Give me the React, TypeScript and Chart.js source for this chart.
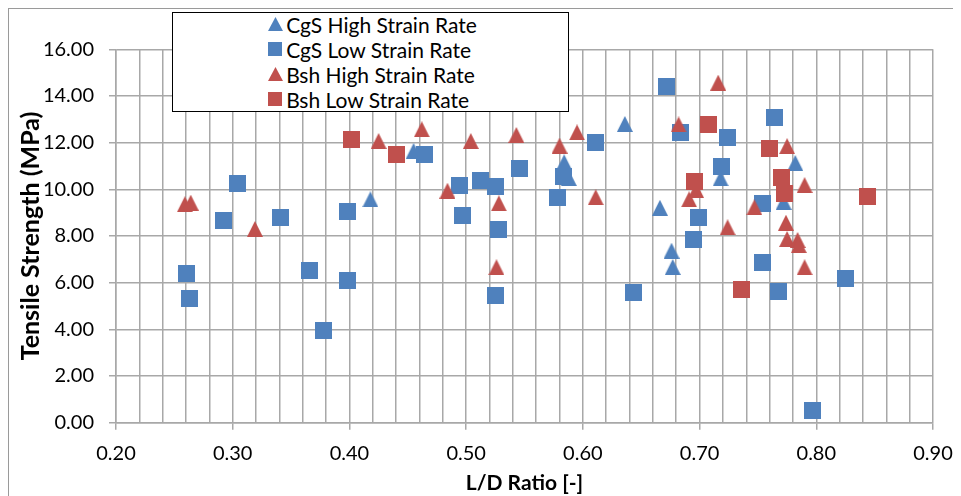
import React, { useEffect, useRef } from "react";
import { Chart, registerables } from "chart.js";

Chart.register(...registerables);

// ---- Data ----
const cgsHighX = [0.418, 0.455, 0.584, 0.588, 0.636, 0.666, 0.676, 0.677, 0.718, 0.772, 0.782];
const cgsHighY = [9.57, 11.64, 11.16, 10.48, 12.8, 9.21, 7.37, 6.67, 10.47, 9.46, 11.13];

const cgsLowX = [0.26, 0.263, 0.292, 0.304, 0.341, 0.366, 0.378, 0.398, 0.398, 0.464, 0.494, 0.497, 0.512, 0.525, 0.528, 0.525, 0.546, 0.578, 0.583, 0.611, 0.643, 0.672, 0.684, 0.695, 0.699, 0.719, 0.724, 0.754, 0.754, 0.764, 0.768, 0.797, 0.825];
const cgsLowY = [6.4, 5.31, 8.68, 10.26, 8.78, 6.54, 3.97, 9.07, 6.11, 11.51, 10.18, 8.86, 10.36, 10.11, 8.29, 5.44, 10.9, 9.64, 10.54, 12.01, 5.59, 14.4, 12.44, 7.87, 8.8, 10.97, 12.23, 9.4, 6.86, 13.08, 5.64, 0.54, 6.16];

const bshHighX = [0.259, 0.264, 0.319, 0.425, 0.462, 0.484, 0.504, 0.526, 0.528, 0.543, 0.58, 0.595, 0.611, 0.682, 0.691, 0.697, 0.716, 0.724, 0.747, 0.774, 0.775, 0.775, 0.784, 0.785, 0.79, 0.79];
const bshHighY = [9.36, 9.43, 8.3, 12.07, 12.57, 9.94, 12.07, 6.66, 9.4, 12.33, 11.87, 12.44, 9.66, 12.78, 9.57, 9.97, 14.57, 8.37, 9.23, 8.57, 11.85, 7.87, 7.83, 7.61, 10.18, 6.66];

const bshLowX = [0.402, 0.44, 0.696, 0.708, 0.736, 0.76, 0.77, 0.773, 0.844];
const bshLowY = [12.14, 11.5, 10.33, 12.78, 5.69, 11.73, 10.51, 9.83, 9.68];

const seriesNames = ["CgS High Strain Rate", "CgS Low Strain Rate", "Bsh High Strain Rate", "Bsh Low Strain Rate"];

const xTitle = "L/D Ratio [-]";
const yTitle = "Tensile Strength (MPa)";
const xMin = 0.2, xMax = 0.9, xStep = 0.02;
const yMin = 0, yMax = 16, yStep = 2;

// ---- Styles ----
const BLUE = "#4F81BD";
const RED = "#C0504D";
const GRID = "#a8a8a8";
const FONT = "Lato, 'Open Sans', sans-serif";

function makeMarker(shape: string, color: string, w: number, h: number) {
  const c = document.createElement("canvas");
  c.width = w;
  c.height = h;
  const g = c.getContext("2d")!;
  g.fillStyle = color;
  if (shape === "tri") {
    g.beginPath();
    g.moveTo(w / 2, 0);
    g.lineTo(w, h);
    g.lineTo(0, h);
    g.closePath();
    g.fill();
  } else {
    g.fillRect(0, 0, w, h);
  }
  return c;
}

const toPts = (xs: number[], ys: number[]) => xs.map((x, i) => ({ x, y: ys[i] }));
const isMajor = (v: number) => Math.abs(v * 10 - Math.round(v * 10)) < 1e-6;

function LegendMarker({ shape, color }: { shape: string; color: string }) {
  if (shape === "tri") {
    return (
      <svg width="15" height="15" style={{ display: "block" }}>
        <polygon points="7.5,0 15,14 0,14" fill={color} />
      </svg>
    );
  }
  return <div style={{ width: 14, height: 14, background: color }} />;
}

export default function App() {
  const ref = useRef<HTMLCanvasElement | null>(null);

  useEffect(() => {
    document.documentElement.style.overflow = "hidden";
    document.body.style.overflow = "hidden";

    const triB = makeMarker("tri", BLUE, 16, 16);
    const sqB = makeMarker("sq", BLUE, 17, 17);
    const triR = makeMarker("tri", RED, 16, 16);
    const sqR = makeMarker("sq", RED, 17, 17);

    const chart = new Chart(ref.current!, {
      type: "scatter",
      data: {
        datasets: [
          { label: seriesNames[0], data: toPts(cgsHighX, cgsHighY), pointStyle: triB as any, pointRadius: 8, backgroundColor: BLUE, order: 4 },
          { label: seriesNames[1], data: toPts(cgsLowX, cgsLowY), pointStyle: sqB as any, pointRadius: 8, backgroundColor: BLUE, order: 3 },
          { label: seriesNames[2], data: toPts(bshHighX, bshHighY), pointStyle: triR as any, pointRadius: 8, backgroundColor: RED, order: 2 },
          { label: seriesNames[3], data: toPts(bshLowX, bshLowY), pointStyle: sqR as any, pointRadius: 8, backgroundColor: RED, order: 1 },
        ],
      },
      options: {
        animation: false,
        responsive: true,
        maintainAspectRatio: false,
        layout: { padding: { top: 40.3, right: 0, left: 0, bottom: 0 } },
        plugins: { legend: { display: false }, tooltip: { enabled: false } },
        scales: {
          x: {
            type: "linear",
            min: xMin,
            max: xMax,
            afterFit: (s: any) => {
              s.height = 73.3;
              s.paddingLeft = 0;
              s.paddingRight = 28;
            },
            ticks: {
              stepSize: xStep,
              autoSkip: false,
              maxRotation: 0,
              padding: 12,
              color: "#000",
              font: { family: FONT, size: 20 },
              callback: (v: any) => (isMajor(Number(v)) ? Number(v).toFixed(2) : ""),
            },
            grid: {
              color: GRID,
              lineWidth: 1.5,
              tickLength: 7,
              tickColor: (ctx: any) => (ctx.tick && isMajor(ctx.tick.value) ? GRID : "rgba(0,0,0,0)"),
            },
            border: { color: GRID, width: 1.5 },
            title: {
              display: true,
              text: xTitle,
              color: "#000",
              font: { family: FONT, size: 21, weight: "bold" },
              padding: { top: 0, bottom: 0 },
            },
          },
          y: {
            type: "linear",
            min: yMin,
            max: yMax,
            afterFit: (s: any) => {
              s.width = 107;
              s.paddingTop = 0;
              s.paddingBottom = 0;
            },
            ticks: {
              stepSize: yStep,
              padding: 15,
              color: "#000",
              font: { family: FONT, size: 20 },
              callback: (v: any) => Number(v).toFixed(2),
            },
            grid: { color: GRID, lineWidth: 1.5, tickLength: 7, tickColor: GRID },
            border: { color: GRID, width: 1.5 },
            title: {
              display: true,
              text: yTitle,
              color: "#000",
              font: { family: FONT, size: 25, weight: "bold" },
              padding: { top: 7, bottom: 0 },
            },
          },
        },
      },
    });
    return () => chart.destroy();
  }, []);

  const legendItems = [
    { shape: "tri", color: BLUE },
    { shape: "sq", color: BLUE },
    { shape: "tri", color: RED },
    { shape: "sq", color: RED },
  ];

  return (
    <div
      style={{
        position: "relative",
        width: 952,
        height: 487,
        borderLeft: "1px solid #9a9a9a",
        borderTop: "1px solid #9a9a9a",
        background: "#fff",
      }}
    >
      <canvas ref={ref} />
      <div
        style={{
          position: "absolute",
          left: 162.7,
          top: 3.3,
          width: 397.3,
          height: 100,
          boxSizing: "border-box",
          border: "1.5px solid #000",
          background: "#fff",
          fontFamily: FONT,
          fontSize: 21,
          color: "#000",
        }}
      >
        {legendItems.map((it, i) => (
          <div
            key={i}
            style={{
              position: "absolute",
              left: 0,
              top: i * 25 - 1,
              height: 25,
              width: "100%",
            }}
          >
            <div style={{ position: "absolute", left: 95, top: 5 }}>
              <LegendMarker shape={it.shape} color={it.color} />
            </div>
            <div style={{ position: "absolute", left: 113.5, top: 0, lineHeight: "25px", whiteSpace: "nowrap" }}>
              {seriesNames[i]}
            </div>
          </div>
        ))}
      </div>
    </div>
  );
}
